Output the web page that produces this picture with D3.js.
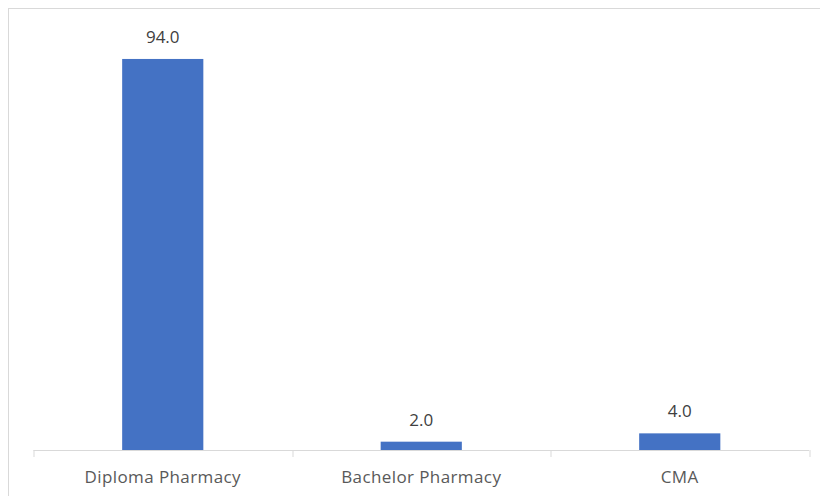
<!DOCTYPE html>
<html>
<head>
<meta charset="utf-8">
<script src="https://cdn.jsdelivr.net/npm/d3@7/dist/d3.min.js"></script>
<style>
  html, body { margin: 0; padding: 0; background: #fff; }
  svg { display: block; }
</style>
</head>
<body>
<svg id="chart" width="820" height="496"></svg>
<script>
// Qualification categories and their shares (%)
const categories = ["Diploma Pharmacy", "Bachelor Pharmacy", "CMA"];
const values = [94.0, 2.0, 4.0];
const yDomain = [0, 100];

const svg = d3.select("#chart");
const W = 820, H = 496;
const margin = { top: 34, right: 11, bottom: 46, left: 33.5 };
const plotW = W - margin.left - margin.right;
const plotH = H - margin.top - margin.bottom;

// Outer chart frame
svg.append("rect")
  .attr("x", 8.5).attr("y", 8.5)
  .attr("width", 840).attr("height", 520)
  .attr("fill", "#fff")
  .attr("stroke", "#d9d9d9")
  .attr("stroke-width", 1);

const g = svg.append("g").attr("transform", `translate(${margin.left},${margin.top})`);

const x = d3.scaleBand().domain(categories).range([0, plotW]).paddingInner(0.686).paddingOuter(0.343);
const y = d3.scaleLinear().domain(yDomain).range([plotH, 0]);

const data = categories.map((c, i) => ({ c, v: values[i] }));

g.selectAll("rect.bar")
  .data(data)
  .enter().append("rect")
  .attr("class", "bar")
  .attr("x", d => x(d.c))
  .attr("y", d => y(d.v))
  .attr("width", x.bandwidth())
  .attr("height", d => y(0) - y(d.v))
  .attr("fill", "#4472c4");

// Category axis with tick marks between categories
const band = plotW / categories.length;
g.append("line")
  .attr("x1", 0).attr("x2", plotW)
  .attr("y1", y(0) + 0.5).attr("y2", y(0) + 0.5)
  .attr("stroke", "#d9d9d9").attr("stroke-width", 1);
d3.range(categories.length + 1).forEach(i => {
  const tx = Math.round(i * band) + 0.5;
  g.append("line")
    .attr("x1", tx).attr("x2", tx)
    .attr("y1", y(0)).attr("y2", y(0) + 7)
    .attr("stroke", "#d9d9d9").attr("stroke-width", 1);
});

g.selectAll("text.cat")
  .data(categories)
  .enter().append("text")
  .attr("class", "cat")
  .attr("x", d => x(d) + x.bandwidth() / 2)
  .attr("y", y(0) + 33)
  .attr("text-anchor", "middle")
  .attr("font-family", "'Open Sans', sans-serif")
  .attr("font-size", 17)
  .attr("letter-spacing", 0.4)
  .attr("fill", "#595959")
  .text(d => d);

// Value labels above bars
g.selectAll("text.val")
  .data(data)
  .enter().append("text")
  .attr("class", "val")
  .attr("x", d => x(d.c) + x.bandwidth() / 2)
  .attr("y", d => y(d.v) - 16)
  .attr("text-anchor", "middle")
  .attr("font-family", "'Open Sans', sans-serif")
  .attr("font-size", 17)
  .attr("fill", "#404040")
  .text(d => d3.format(".1f")(d.v));
</script>
</body>
</html>
